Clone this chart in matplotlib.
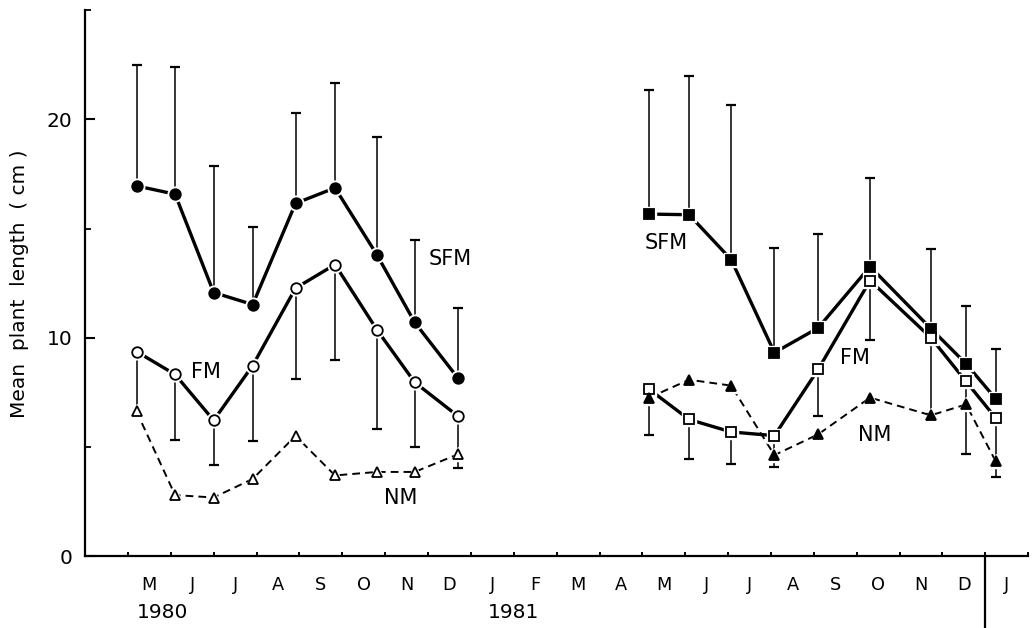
import matplotlib
matplotlib.use('Agg')
import matplotlib.pyplot as plt
import numpy as np

# ---------------- data ----------------
months = ['M', 'J', 'J', 'A', 'S', 'O', 'N', 'D', 'J', 'F', 'M',
          'A', 'M', 'J', 'J', 'A', 'S', 'O', 'N', 'D', 'J']
years = ['1980', '1981']
year_pos = [0.21, 8.40]

# sampling positions in months since 1 May 1980
x80 = [0.20, 1.10, 2.00, 2.91, 3.91, 4.83, 5.81, 6.69, 7.70]
x81 = [12.16, 13.09, 14.07, 15.08, 16.10, 17.31, 18.73, 19.55, 20.24]

sfm80 = [16.95, 16.57, 12.07, 11.52, 16.15, 16.86, 13.79, 10.70, 8.15]
sfm80_up = [22.48, 22.40, 17.87, 15.05, 20.27, 21.66, 19.18, 14.47, 11.37]
fm80 = [9.37, 8.32, 6.22, 8.73, 12.27, 13.35, 10.36, 7.96, 6.41]
fm80_lo = [6.40, 5.31, 4.20, 5.28, 8.10, 8.96, 5.84, 4.98, 4.02]
nm80 = [6.63, 2.80, 2.69, 3.54, 5.51, 3.70, 3.86, 3.86, 4.67]

sfm81 = [15.66, 15.63, 13.58, 9.32, 10.45, 13.26, 10.42, 8.81, 7.21]
sfm81_up = [21.34, 21.96, 20.65, 14.11, 14.75, 17.31, 14.05, 11.46, 9.47]
fm81 = [7.64, 6.26, 5.69, 5.52, 8.55, 12.62, 10.00, 8.00, 6.33]
fm81_lo = [5.54, 4.47, 4.21, 4.09, 6.41, 9.88, 6.50, 4.70, 3.63]
nm81 = [7.26, 8.08, 7.81, 4.63, 5.58, 7.26, 6.45, 6.95, 4.35]

series_labels = ['SFM', 'FM', 'NM', 'SFM', 'FM', 'NM']
label_x = [7.51, 1.82, 6.37, 12.56, 16.96, 17.41]
label_y = [13.62, 8.42, 2.66, 14.32, 9.09, 5.54]

# ---------------- figure ----------------
plt.rcParams['font.family'] = ['DejaVu Sans']
fig = plt.figure(figsize=(10.36, 6.28), dpi=100)
ax = fig.add_axes([0.0821, 0.1142, 0.9104, 0.8699])
ax.set_xlim(-1, 21)
ax.set_ylim(0, 25)

for s in ['top', 'right']:
    ax.spines[s].set_visible(False)
for s in ['left', 'bottom']:
    ax.spines[s].set_linewidth(1.6)

# error bars
def ebar(x, y, lo, hi):
    ax.errorbar(x, y, yerr=[lo, hi], fmt='none', ecolor='black',
                elinewidth=1.1, capsize=3.3, capthick=1.6, zorder=2)

ebar(x80, sfm80, np.zeros(len(sfm80)), np.array(sfm80_up) - np.array(sfm80))
ebar(x80, fm80, np.array(fm80) - np.array(fm80_lo), np.zeros(len(fm80)))
ebar(x81, sfm81, np.zeros(len(sfm81)), np.array(sfm81_up) - np.array(sfm81))
ebar(x81, fm81, np.array(fm81) - np.array(fm81_lo), np.zeros(len(fm81)))

# lines
ax.plot(x80, sfm80, '-', color='black', lw=2.4, zorder=3)
ax.plot(x80, fm80, '-', color='black', lw=2.4, zorder=3)
ax.plot(x80, nm80, color='black', lw=1.4, dashes=(4, 2.6), zorder=3)
ax.plot(x81, sfm81, '-', color='black', lw=2.4, zorder=3)
ax.plot(x81, fm81, '-', color='black', lw=2.4, zorder=3)
ax.plot(x81, nm81, color='black', lw=1.4, dashes=(4, 2.6), zorder=3)

# markers with a small white halo
def mk(x, y, m, ms, face):
    ax.plot(x, y, linestyle='none', marker=m, ms=ms + 3.0, mfc='white',
            mec='white', zorder=4)
    ax.plot(x, y, linestyle='none', marker=m, ms=ms, mfc=face,
            mec='black', mew=1.3, zorder=5)

mk(x80, sfm80, 'o', 7.6, 'black')
mk(x80, fm80, 'o', 7.6, 'white')
mk(x80, nm80, '^', 6.6, 'white')
mk(x81, sfm81, 's', 6.8, 'black')
mk(x81, fm81, 's', 6.6, 'white')
mk(x81, nm81, '^', 7.4, 'black')

# series labels
for t, lx, ly in zip(series_labels, label_x, label_y):
    ax.text(lx, ly, t, fontsize=15, ha='center', va='center', zorder=6)

# y axis
ax.set_yticks([0, 10, 20])
ax.set_yticks([5, 15, 25], minor=True)
ax.set_yticklabels(['0', '10', '20'], fontsize=14.5)
ax.tick_params(axis='y', which='major', direction='in', length=7.5,
               width=1.5, pad=9)
ax.tick_params(axis='y', which='minor', direction='in', length=4,
               width=1.3)
ax.set_ylabel('Mean  plant  length  ( cm )', fontsize=14.5, va='center')
ax.yaxis.set_label_coords(-0.069, 0.498)

# x axis: month boundaries as ticks, month letters centred between them
ax.set_xticks(np.arange(0, 22))
ax.set_xticklabels([])
ax.set_xticks(np.arange(len(months)) + 0.5, minor=True)
ax.set_xticklabels(months, minor=True, fontsize=12.8)
ax.tick_params(axis='x', which='major', direction='in', length=3.2,
               width=1.4)
ax.tick_params(axis='x', which='minor', direction='in', length=0, pad=14.5)

trans = ax.get_xaxis_transform()
for yr, px in zip(years, year_pos):
    ax.text(px, -0.0855, yr, transform=trans, fontsize=14.5,
            ha='left', va='top')

# year boundary line below the axis
ax.plot([20, 20], [0, -0.14], transform=trans, color='black', lw=1.6,
        clip_on=False)

fig.savefig('out.png', dpi=100)
